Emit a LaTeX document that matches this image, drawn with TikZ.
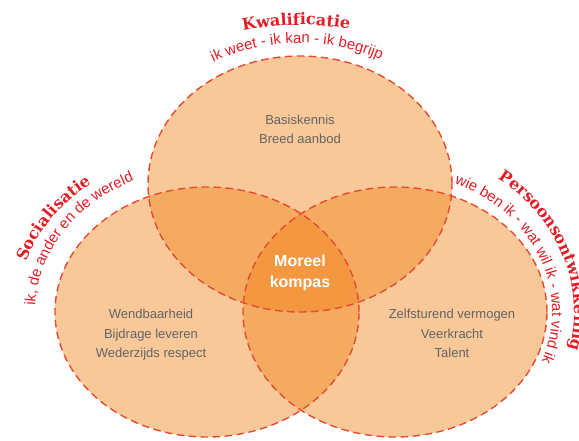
\documentclass[tikz,border=0pt]{standalone}
\usepackage{fontspec}
\setmainfont{Liberation Sans}
\newfontfamily\titlefont{DejaVu Serif}
\usetikzlibrary{decorations.text}
\definecolor{fillA}{RGB}{248,200,152}
\definecolor{fillB}{RGB}{245,170,98}
\definecolor{fillC}{RGB}{243,152,64}
\definecolor{dashred}{RGB}{232,74,48}
\definecolor{labelred}{RGB}{225,30,38}
\definecolor{bodygray}{RGB}{100,100,100}
\begin{document}
\begin{tikzpicture}[x=1pt,y=1pt,
  outline/.style={draw=dashred, line width=1.4pt, dash pattern=on 7.5pt off 4.5pt},
  bodytext/.style={text=bodygray, font=\fontsize{13}{19.5}\selectfont, align=center, inner sep=0pt},
  centertext/.style={text=white, font=\bfseries\fontsize{16}{21}\selectfont, align=center, inner sep=0pt},
  titlelabel/.style={decorate, decoration={text along path, text align=center, text color=labelred,
      text={|\titlefont\bfseries\fontsize{16}{16}\selectfont|#1}}},
  titlelabelleft/.style={decorate, decoration={text along path, text align=left, text color=labelred,
      text={|\titlefont\bfseries\fontsize{16}{16}\selectfont|#1}}},
  sublabel/.style={decorate, decoration={text along path, text align=center, text color=labelred,
      text={|\fontsize{15}{15}\selectfont|#1}}}
]
\useasboundingbox (0,0) rectangle (579,-440);
% fills
\fill[fillA] (300,-184) ellipse [x radius=152, y radius=128];
\fill[fillA] (207,-312) ellipse [x radius=152, y radius=125];
\fill[fillA] (395,-312) ellipse [x radius=152, y radius=125];
\begin{scope}
  \clip (300,-184) ellipse [x radius=152, y radius=128];
  \fill[fillB] (207,-312) ellipse [x radius=152, y radius=125];
  \fill[fillB] (395,-312) ellipse [x radius=152, y radius=125];
\end{scope}
\begin{scope}
  \clip (207,-312) ellipse [x radius=152, y radius=125];
  \fill[fillB] (395,-312) ellipse [x radius=152, y radius=125];
\end{scope}
\begin{scope}
  \clip (300,-184) ellipse [x radius=152, y radius=128];
  \clip (207,-312) ellipse [x radius=152, y radius=125];
  \fill[fillC] (395,-312) ellipse [x radius=152, y radius=125];
\end{scope}
% outlines
\draw[outline] (300,-184) ellipse [x radius=152, y radius=128];
\draw[outline] (207,-312) ellipse [x radius=152, y radius=125];
\draw[outline] (395,-312) ellipse [x radius=152, y radius=125];
% body texts
\node[bodytext] (kwaltext) at (300,-129.5) {Basiskennis\\Breed aanbod};
\node[bodytext] (soctext) at (151,-335) {Wendbaarheid\\Bijdrage leveren\\Wederzijds respect};
\node[bodytext] (perstext) at (452,-333.5) {Zelfsturend vermogen\\Veerkracht\\Talent};
\node[centertext] (moreel) at (300,-273) {Moreel\\kompas};
% curved labels: top
\path[titlelabel={Kwalificatie}] ([shift={(300,-184)}]161.3:215 and 159) arc [start angle=161.3, end angle=21.3, x radius=215, y radius=159];
\path[sublabel={ik weet - ik kan - ik begrijp}] ([shift={(300,-184)}]161.3:172 and 141) arc [start angle=161.3, end angle=21.3, x radius=172, y radius=141];
% left
\path[titlelabel={Socialisatie}] ([shift={(207,-312)}]218:190 and 162) arc [start angle=218, end angle=78, x radius=190, y radius=162];
\path[sublabel={ik, de ander en de wereld}] ([shift={(207,-312)}]219:172 and 145) arc [start angle=219, end angle=79, x radius=172, y radius=145];
% right
\path[titlelabelleft={Persoonsontwikkeling}] ([shift={(395,-312)}]55:179 and 163) arc [start angle=55, end angle=-50, x radius=179, y radius=163];
\path[sublabel={wie ben ik - wat wil ik - wat vind ik}] ([shift={(395,-312)}]92.5:157 and 139) arc [start angle=92.5, end angle=-47.5, x radius=157, y radius=139];
\end{tikzpicture}
\end{document}
